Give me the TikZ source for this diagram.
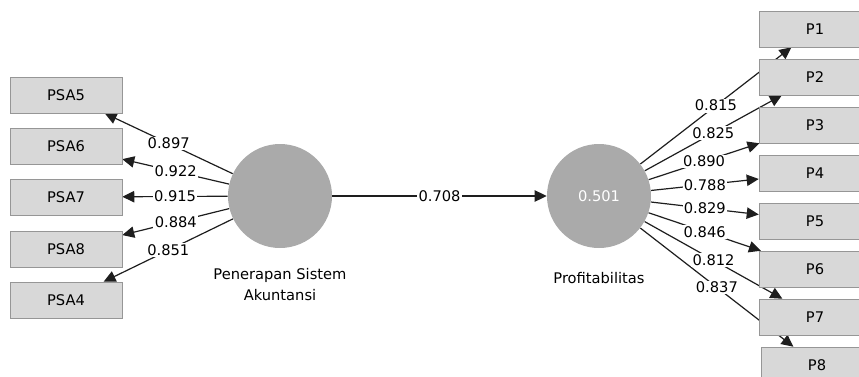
\documentclass[tikz,border=0pt]{standalone}
\usepackage{fontspec}
\setmainfont{DejaVu Sans}
\usetikzlibrary{arrows.meta,positioning,backgrounds}
\definecolor{boxgray}{RGB}{216,216,216}
\definecolor{boxedge}{RGB}{150,150,150}
\definecolor{latentgray}{RGB}{170,170,170}
\definecolor{pathblack}{RGB}{30,30,30}

\begin{document}
\begin{tikzpicture}[
    x=0.75pt, y=-0.75pt,
    indicator/.style={rectangle, draw=boxedge, fill=boxgray, minimum width=84pt, minimum height=27pt, inner sep=0pt, font=\fontsize{11}{13}\selectfont},
    latent/.style={circle, fill=latentgray, minimum size=78pt, inner sep=0pt, text=white, font=\fontsize{11}{13}\selectfont},
    caption/.style={align=center, inner sep=0pt, font=\fontsize{11}{15.5}\selectfont},
    arrow/.style={-{Triangle[length=9pt,width=8.5pt]}, line width=0.9pt, pathblack},
    coef/.style={fill=white, inner sep=1pt, font=\fontsize{11}{13}\selectfont}
]
    \clip (0,0) rectangle (859,376);

    \node[latent] (psa) at (280,196) {};
    \node[latent] (prof) at (599,196) {0.501};
    \node[caption, below=15pt of psa] (psaname) {Penerapan Sistem\\Akuntansi};
    \node[caption, below=18pt of prof] (profname) {Profitabilitas};

    \node[indicator] (psa5) at (66,95) {PSA5};
    \node[indicator] (psa6) at (66,146) {PSA6};
    \node[indicator] (psa7) at (66,197) {PSA7};
    \node[indicator] (psa8) at (66,249) {PSA8};
    \node[indicator] (psa4) at (66,300) {PSA4};

    \node[indicator] (p1) at (815,29) {P1};
    \node[indicator] (p2) at (815,77) {P2};
    \node[indicator] (p3) at (815,125) {P3};
    \node[indicator] (p4) at (815,173) {P4};
    \node[indicator] (p5) at (815,221) {P5};
    \node[indicator] (p6) at (815,269) {P6};
    \node[indicator] (p7) at (815,317) {P7};
    \node[indicator] (p8) at (817,365) {P8};

    \begin{pgfonlayer}{background}
        \draw[arrow] (psa) -- (prof);
        \draw[arrow] (psa) -- (psa5);
        \draw[arrow] (psa) -- (psa6);
        \draw[arrow] (psa) -- (psa7);
        \draw[arrow] (psa) -- (psa8);
        \draw[arrow] (psa) -- (psa4);
        \draw[arrow] (prof) -- (p1);
        \draw[arrow] (prof) -- (p2);
        \draw[arrow] (prof) -- (p3);
        \draw[arrow] (prof) -- (p4);
        \draw[arrow] (prof) -- (p5);
        \draw[arrow] (prof) -- (p6);
        \draw[arrow] (prof) -- (p7);
        \draw[arrow] (prof) -- (p8);
    \end{pgfonlayer}

    \path (psa) -- (prof) node[coef, midway] {0.708};
    \path (psa) -- (psa5) node[coef, midway] {0.897};
    \path (psa) -- (psa6) node[coef, midway] {0.922};
    \path (psa) -- (psa7) node[coef, midway] {0.915};
    \path (psa) -- (psa8) node[coef, midway] {0.884};
    \path (psa) -- (psa4) node[coef, midway] {0.851};
    \path (prof) -- (p1) node[coef, midway] {0.815};
    \path (prof) -- (p2) node[coef, midway] {0.825};
    \path (prof) -- (p3) node[coef, midway] {0.890};
    \path (prof) -- (p4) node[coef, midway] {0.788};
    \path (prof) -- (p5) node[coef, midway] {0.829};
    \path (prof) -- (p6) node[coef, midway] {0.846};
    \path (prof) -- (p7) node[coef, midway] {0.812};
    \path (prof) -- (p8) node[coef, midway] {0.837};
\end{tikzpicture}
\end{document}
